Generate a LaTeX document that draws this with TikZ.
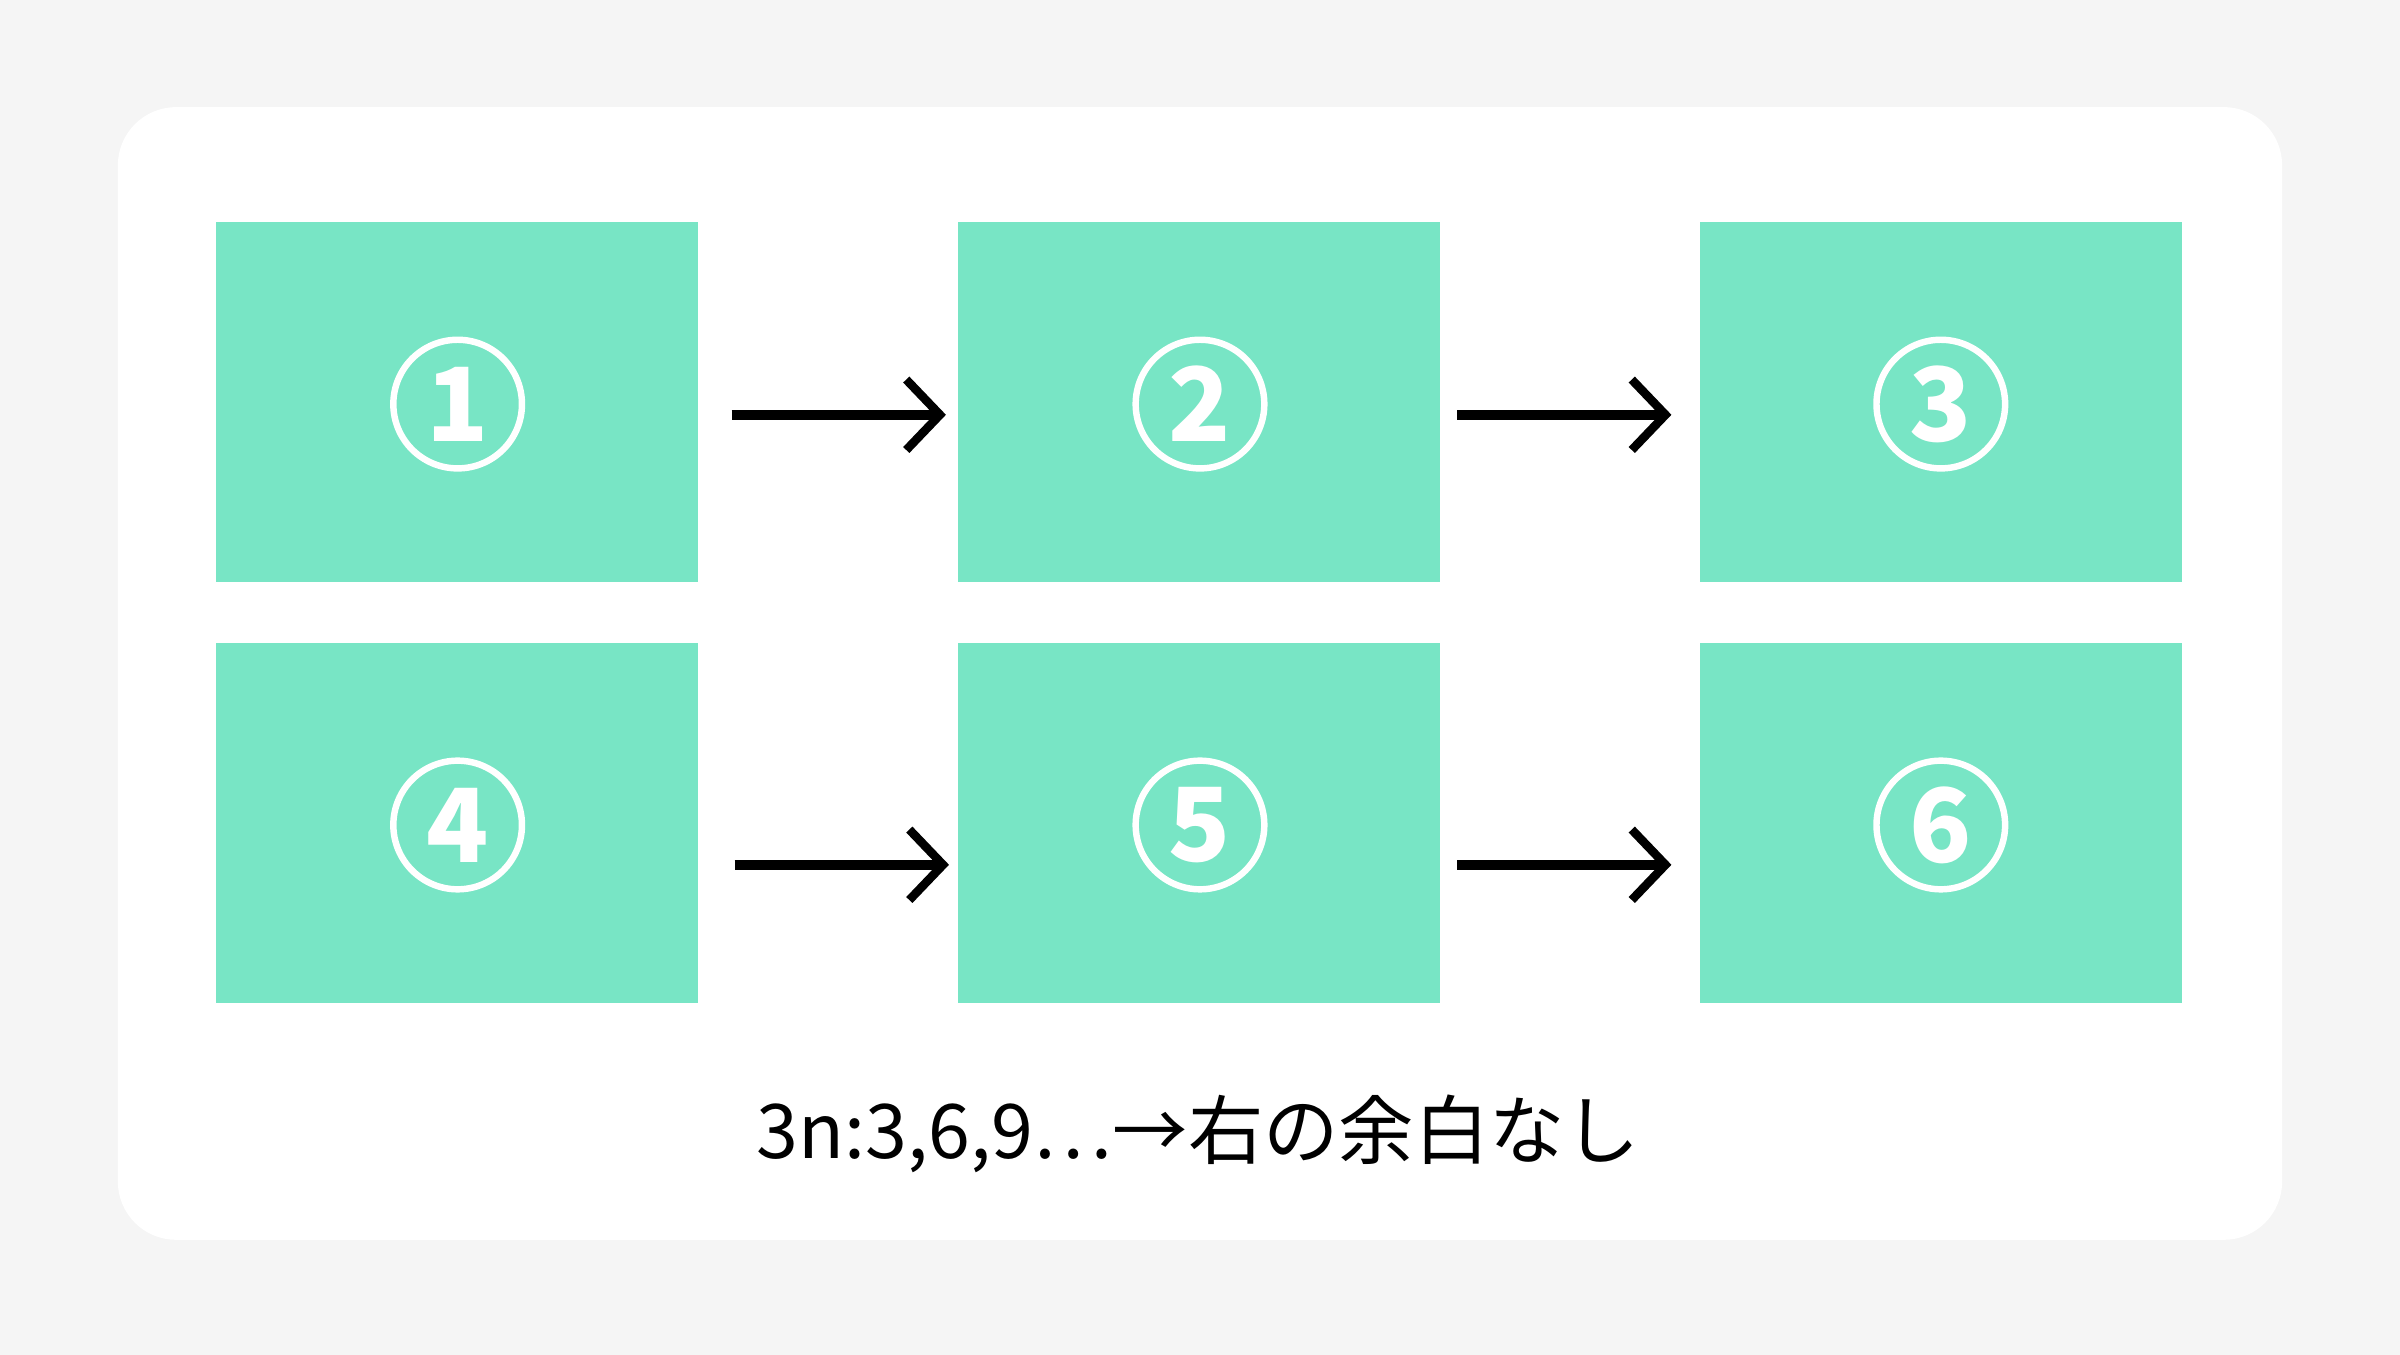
\documentclass[tikz,border=0pt]{standalone}
\usepackage{fontspec}
\setmainfont{Noto Sans CJK JP}
\usetikzlibrary{arrows.meta}
\definecolor{bg}{HTML}{F5F5F5}
\definecolor{tile}{HTML}{78E5C5}
\tikzset{
  tilebox/.style={fill=tile,draw=none,minimum width=3.15cm,minimum height=2.35cm,inner sep=0pt},
  numcirc/.style={circle,draw=white,line width=1.2pt,minimum size=0.84cm,inner sep=0pt,text=white,font=\fontsize{19}{19}\selectfont\bfseries},
  flow/.style={line width=1.8pt,-{Straight Barb[length=2.2mm,width=4.6mm,line width=1.6pt]}}
}
\begin{document}
\begin{tikzpicture}[x=0.01cm,y=-0.01cm]
\useasboundingbox (0,0) rectangle (1568,885);
\fill[bg] (0,0) rectangle (1568,885);
\fill[white,rounded corners=0.38cm] (77,70) rectangle (1491,810);
\node[tilebox] (b1) at (298.5,262.5) {};
\node[tilebox] (b2) at (783.5,262.5) {};
\node[tilebox] (b3) at (1268,262.5) {};
\node[tilebox] (b4) at (298.5,537.5) {};
\node[tilebox] (b5) at (783.5,537.5) {};
\node[tilebox] (b6) at (1268,537.5) {};
\node[numcirc] (c1) at (299,264) {1};
\node[numcirc] (c2) at (784,264) {2};
\node[numcirc] (c3) at (1268,264) {3};
\node[numcirc] (c4) at (299,539) {4};
\node[numcirc] (c5) at (784,539) {5};
\node[numcirc] (c6) at (1268,539) {6};
\coordinate (a1s) at (478,271); \coordinate (a1e) at (618,271);
\coordinate (a2s) at (952,271); \coordinate (a2e) at (1092,271);
\coordinate (a3s) at (480,565); \coordinate (a3e) at (620,565);
\coordinate (a4s) at (952,565); \coordinate (a4e) at (1092,565);
\draw[flow] (a1s) -- (a1e);
\draw[flow] (a2s) -- (a2e);
\draw[flow] (a3s) -- (a3e);
\draw[flow] (a4s) -- (a4e);
\node[font=\fontsize{14}{14}\selectfont] (cap) at (783,741) {3n:3,6,9…→右の余白なし};
\end{tikzpicture}
\end{document}
